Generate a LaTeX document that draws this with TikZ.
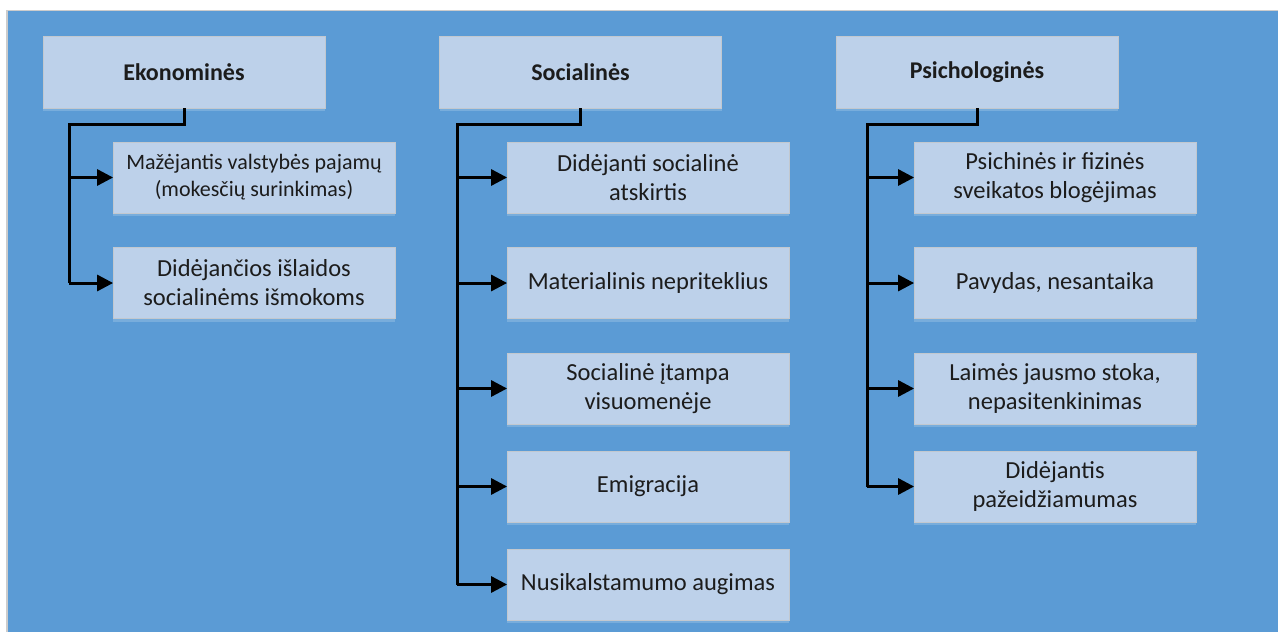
\documentclass[tikz,border=0pt]{standalone}
\usepackage{fontspec}
\setmainfont{Carlito}
\usetikzlibrary{arrows.meta,shadows}

\definecolor{bgblue}{HTML}{5B9BD5}
\definecolor{boxfill}{HTML}{BDD1EA}
\definecolor{boxline}{HTML}{C2C8CF}
\definecolor{ink}{HTML}{1C1C1C}

\tikzset{
  box/.style={draw=boxline, line width=0.8pt, fill=boxfill, text=ink,
    minimum width=282pt, minimum height=71pt, inner sep=0pt, align=center,
    font=\fontsize{24.5}{29}\selectfont,
    drop shadow={shadow xshift=0pt, shadow yshift=-3pt, fill=white, opacity=0.18}},
  header/.style={box, minimum height=72pt, font=\bfseries\fontsize{24}{29}\selectfont},
  smalltext/.style={font=\fontsize{22}{27}\selectfont},
  conn/.style={draw=black, line width=3pt, line join=miter},
  arr/.style={conn, -{Triangle[length=16pt,width=16pt]}, shorten >=-0.5pt}
}

\begin{document}
\begin{tikzpicture}[x=1pt,y=-1pt]
  % page and background panel
  \useasboundingbox (0,0) rectangle (1278,632);
  \fill[white] (0,0) rectangle (1278,632);
  \fill[black!20] (6,9.5) rectangle (1278,632);
  \fill[bgblue] (8,11) rectangle (1278,632);

  % column headers
  \node[header] (eko) at (184,72) {Ekonominės};
  \node[header] (soc) at (580.5,72) {Socialinės};
  \node[header] (psi) at (977,72) {Psichologinės};

  % economic consequences
  \node[box, smalltext] (e1) at (254,177.5) {Mažėjantis valstybės pajamų\\(mokesčių surinkimas)};
  \node[box] (e2) at (254,283) {Didėjančios išlaidos\\socialinėms išmokoms};

  % social consequences
  \node[box] (s1) at (648,177.5) {Didėjanti socialinė\\atskirtis};
  \node[box] (s2) at (648,283) {Materialinis nepriteklius};
  \node[box] (s3) at (648,388.5) {Socialinė įtampa\\visuomenėje};
  \node[box] (s4) at (648,486.5) {Emigracija};
  \node[box] (s5) at (648,584.5) {Nusikalstamumo augimas};

  % psychological consequences
  \node[box] (p1) at (1055,177.5) {Psichinės ir fizinės\\sveikatos blogėjimas};
  \node[box] (p2) at (1055,283) {Pavydas, nesantaika};
  \node[box] (p3) at (1055,388.5) {Laimės jausmo stoka,\\nepasitenkinimas};
  \node[box] (p4) at (1055,486.5) {Didėjantis\\pažeidžiamumas};

  % spine ends
  \coordinate (eend) at (69,283);
  \coordinate (send) at (457,584.5);
  \coordinate (pend) at (867,486.5);

  % trunks
  \draw[conn] (eko.south) -- ++(0,16) -| (eend);
  \draw[conn] (soc.south) -- ++(0,16) -| (send);
  \draw[conn] (psi.south) -- ++(0,16) -| (pend);

  % branches
  \foreach \n in {e1,e2} \draw[arr] (\n.west -| eend) -- (\n.west);
  \foreach \n in {s1,s2,s3,s4,s5} \draw[arr] (\n.west -| send) -- (\n.west);
  \foreach \n in {p1,p2,p3,p4} \draw[arr] (\n.west -| pend) -- (\n.west);
\end{tikzpicture}
\end{document}
